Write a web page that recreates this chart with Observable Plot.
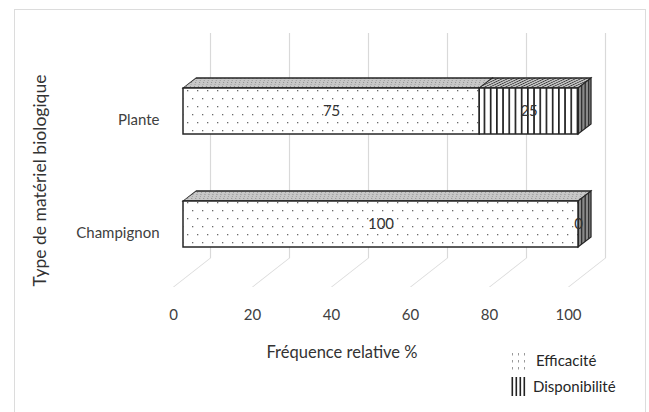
<!DOCTYPE html>
<html><head><meta charset="utf-8">
<script src="https://cdn.jsdelivr.net/npm/d3@7"></script>
<script src="https://cdn.jsdelivr.net/npm/@observablehq/plot@0.6"></script>
<style>
body{margin:0;background:#fff;font-family:Lato,sans-serif;}
#wrap{position:relative;width:649px;height:412px;overflow:hidden;}
#border{position:absolute;left:14px;top:9px;width:632px;height:430px;border:1.5px solid #dcdcdc;box-sizing:border-box;}
.top rect{transform-box:fill-box;transform-origin:0 100%;transform:skewX(-52.4deg);}
.side rect{transform-box:fill-box;transform-origin:0 0;transform:skewY(-37.6deg);}
.floor line{transform-box:fill-box;transform-origin:50% 50%;transform:skewX(-51.9deg);}
.legsw{position:absolute;}
.legtx{position:absolute;font-size:15px;line-height:18px;color:#262626;white-space:nowrap;}
</style></head>
<body>
<div id="wrap"><div id="border"></div></div>
<script>
const categories = ["Plante", "Champignon"];
const efficacite = [75, 100];
const disponibilite = [25, 0];
const seriesNames = ["Efficacité", "Disponibilité"];
const xTicks = [0, 20, 40, 60, 80, 100];
const xLabel = "Fréquence relative %";
const yLabel = "Type de matériel biologique";

const frontFill = {"Efficacité": "url(#dots)", "Disponibilité": "url(#stripes)"};
const topFill = {"Efficacité": "url(#topDots)", "Disponibilité": "url(#topStripes)"};

const rows = categories.flatMap((c, i) => [
  {cat: c, series: seriesNames[0], value: efficacite[i], x1: 0, x2: efficacite[i]},
  {cat: c, series: seriesNames[1], value: disponibilite[i], x1: efficacite[i], x2: efficacite[i] + disponibilite[i]}
]);
const totals = categories.map((c, i) => ({cat: c, total: efficacite[i] + disponibilite[i]}));

const chart = Plot.plot({
  width: 649, height: 412,
  marginLeft: 183, marginRight: 71, marginTop: 20, marginBottom: 98,
  style: {fontFamily: "Lato, sans-serif", fontSize: "15px", color: "#404040", background: "transparent"},
  x: {domain: [0, 100]},
  y: {domain: categories, padding: 0.595},
  color: {type: "identity"},
  marks: [
    Plot.ruleX(xTicks, {x: d => d, dx: 27, insetTop: 13, insetBottom: 56, stroke: "#d9d9d9", strokeWidth: 1.2}),
    Plot.ruleX(xTicks, {x: d => d, dx: 8.5, insetTop: 238, insetBottom: 27, stroke: "#d9d9d9", strokeWidth: 1.2, className: "floor"}),
    Plot.barX(rows, {x1: "x1", x2: "x2", y: "cat", dy: -10, insetBottom: 36, fill: d => topFill[d.series], stroke: "#262626", strokeWidth: 1.3, className: "top"}),
    Plot.barX(totals, {x1: "total", x2: "total", y: "cat", insetRight: -13, fill: "url(#side)", stroke: "#262626", strokeWidth: 1.3, className: "side"}),
    Plot.barX(rows, {x1: "x1", x2: "x2", y: "cat", fill: d => frontFill[d.series], stroke: "#262626", strokeWidth: 1.5}),
    Plot.text(rows, {x: d => (d.x1 + d.x2) / 2, y: "cat", text: d => String(d.value), fill: "#333", fontSize: 15}),
    Plot.axisX(xTicks, {tickSize: 0, dx: -10, dy: -14, label: null, fill: "#404040"}),
    Plot.axisY({tickSize: 0, tickPadding: 24, dy: 9, label: null, fill: "#404040"}),
    Plot.text([xLabel], {text: d => d, frameAnchor: "bottom", dx: -39, dy: 43, fill: "#333", fontSize: 16.5}),
    Plot.text([yLabel], {text: d => d, frameAnchor: "left", textAnchor: "middle", rotate: -90, dx: -143, dy: 13, fill: "#333", fontSize: 17.5})
  ]
});

d3.select(chart).insert("defs", ":first-child").html(`
<pattern id="dots" width="10" height="16" patternUnits="userSpaceOnUse">
  <rect width="10" height="16" fill="#fff"/>
  <rect x="2" y="2" width="1.3" height="1.3" fill="#6a6a6a"/>
  <rect x="7" y="10" width="1.3" height="1.3" fill="#6a6a6a"/>
</pattern>
<pattern id="stripes" width="6.2" height="10" patternUnits="userSpaceOnUse">
  <rect width="6.2" height="10" fill="#fff"/>
  <rect x="0" y="0" width="1.7" height="10" fill="#222"/>
</pattern>
<pattern id="topDots" width="4" height="4" patternUnits="userSpaceOnUse">
  <rect width="4" height="4" fill="#c8c8c8"/>
  <rect x="0" y="0" width="1" height="1" fill="#888"/>
  <rect x="2" y="2" width="1" height="1" fill="#999"/>
</pattern>
<pattern id="topStripes" width="4" height="4" patternUnits="userSpaceOnUse" patternTransform="rotate(40)">
  <rect width="4" height="4" fill="#c8c8c8"/>
  <rect x="0" y="0" width="1.4" height="4" fill="#3a3a3a"/>
</pattern>
<pattern id="side" width="3.5" height="10" patternUnits="userSpaceOnUse">
  <rect width="3.5" height="10" fill="#8a8a8a"/>
  <rect x="0" y="0" width="1.3" height="10" fill="#2e2e2e"/>
</pattern>
<pattern id="legDots" width="6" height="7" patternUnits="userSpaceOnUse">
  <rect width="6" height="7" fill="#fff"/>
  <rect x="2" y="1" width="1" height="2.5" fill="#9a9a9a"/>
</pattern>
<pattern id="legStripes" width="4" height="10" patternUnits="userSpaceOnUse">
  <rect width="4" height="10" fill="#fff"/>
  <rect x="0.5" y="0" width="1.6" height="10" fill="#222"/>
</pattern>`);

const wrap = document.getElementById("wrap");
chart.style.position = "absolute";
chart.style.left = "0";
chart.style.top = "0";
wrap.appendChild(chart);

const legendPatterns = ["url(#legDots)", "url(#legStripes)"];
const swPos = [{left: 510, top: 352, w: 20, h: 21}, {left: 511, top: 377, w: 16, h: 19}];
const txPos = [{left: 536, top: 351}, {left: 533, top: 377}];
seriesNames.forEach((name, i) => {
  const sw = document.createElement("div");
  sw.className = "legsw";
  sw.style.left = swPos[i].left + "px";
  sw.style.top = swPos[i].top + "px";
  sw.innerHTML = `<svg width="${swPos[i].w}" height="${swPos[i].h}" style="display:block"><rect width="${swPos[i].w}" height="${swPos[i].h}" fill="${legendPatterns[i]}"/></svg>`;
  wrap.appendChild(sw);
  const tx = document.createElement("div");
  tx.className = "legtx";
  tx.style.left = txPos[i].left + "px";
  tx.style.top = txPos[i].top + "px";
  tx.textContent = name;
  wrap.appendChild(tx);
});
</script>
</body></html>
